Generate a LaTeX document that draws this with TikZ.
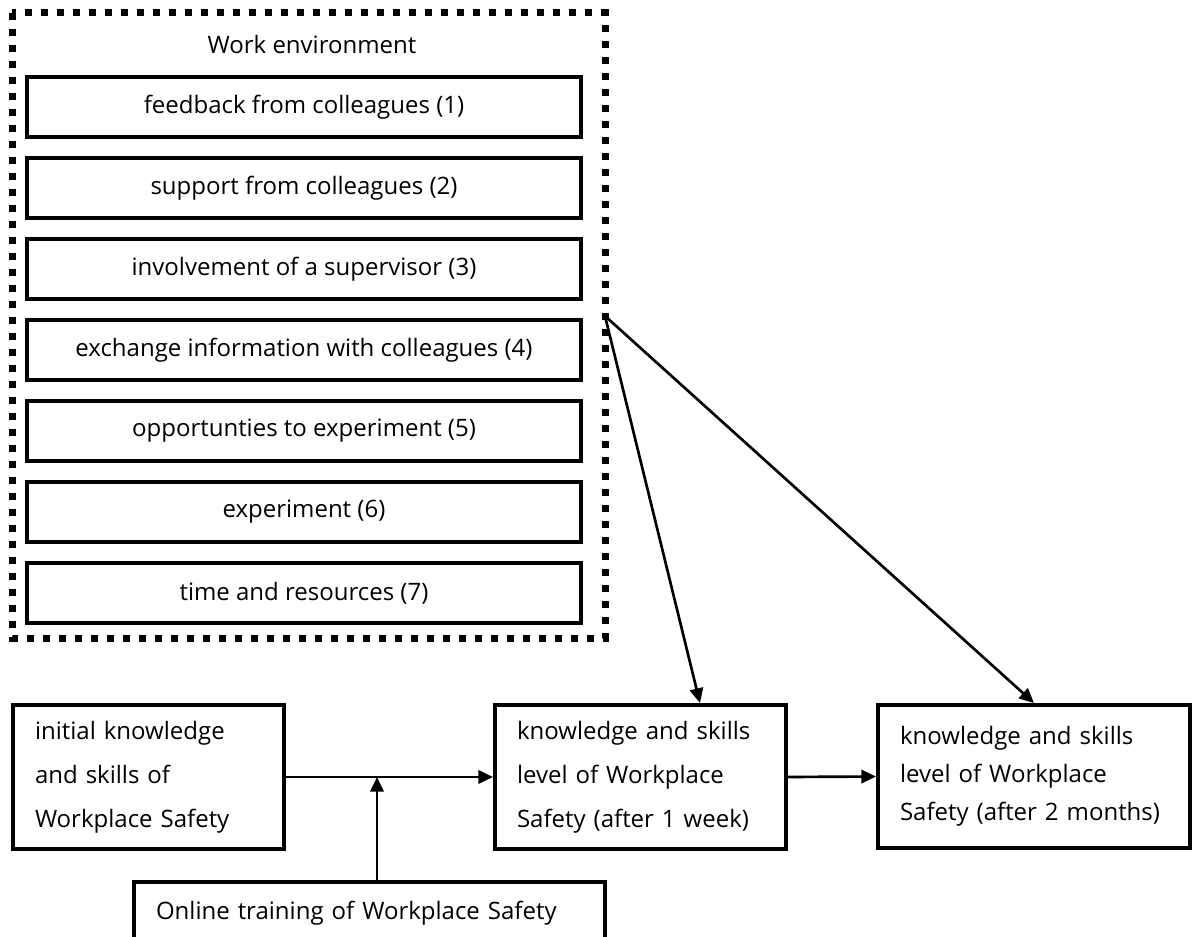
\documentclass[tikz,border=0pt]{standalone}
\usepackage{fontspec}
\setmainfont{Open Sans}[Ligatures=NoCommon]
\usetikzlibrary{arrows.meta}

\begin{document}
\begin{tikzpicture}[x=0.75pt,y=-0.75pt,
  every node/.style={font=\fontsize{18}{21}\selectfont},
  envframe/.style={line width=5.25pt, dash pattern=on 5.25pt off 6.75pt},
  item/.style={draw, line width=3pt, minimum width=554*0.75pt,
    minimum height=60*0.75pt, inner sep=0pt},
  lvl/.style={draw, line width=3pt, align=left, inner xsep=22*0.75pt,
    inner ysep=0pt, font=\fontsize{18}{33}\selectfont},
  arr/.style={line width=2pt, -{Triangle[length=11pt,width=10pt]}}
]
\clip (0,0) rectangle (1195,937);

% dotted frame of the work environment
\coordinate (envNW) at (12,13);
\coordinate (envSE) at (605,638);
\coordinate (src) at (605,316);
\draw[envframe] (envNW) rectangle (envSE);
\node (title) at (312,45) {Work environment};

% factors of the work environment
\foreach \t [count=\i] in {feedback from colleagues (1), support from colleagues (2),
  involvement of a supervisor (3), exchange information with colleagues (4),
  opportunties to experiment (5), experiment (6), time and resources (7)}
  \node[item] (w\i) at (304,{107+81*(\i-1)}) {\t};

% knowledge levels and training
\node[lvl, minimum width=271*0.75pt, minimum height=144*0.75pt, text width=227*0.75pt]
  (init) at (148.5,777) {initial knowledge\\and skills of\\Workplace Safety};
\node[lvl, minimum width=291*0.75pt, minimum height=144*0.75pt, text width=247*0.75pt]
  (week) at (640.5,777) {knowledge and skills\\level of Workplace\\Safety (after 1 week)};
\node[lvl, minimum width=312*0.75pt, minimum height=143*0.75pt, text width=268*0.75pt,
  font=\fontsize{18}{28.5}\selectfont]
  (months) at (1034,776.5) {knowledge and skills\\level of Workplace\\Safety (after 2 months)};
\node[lvl, minimum width=471*0.75pt, minimum height=62*0.75pt, text width=427*0.75pt]
  (online) at (369.5,913) {Online training of Workplace Safety};

% connectors
\coordinate (j) at (377,777);
\draw[arr] (init.east) -- (week.west);
\draw[arr] (online.north -| j) -- (j);
\draw[arr] (week.east) -- (months.west);
\draw[arr] (src) -- ([xshift=44.6pt]week.north);
\draw[arr] (src) -- (months.north);
\end{tikzpicture}
\end{document}
